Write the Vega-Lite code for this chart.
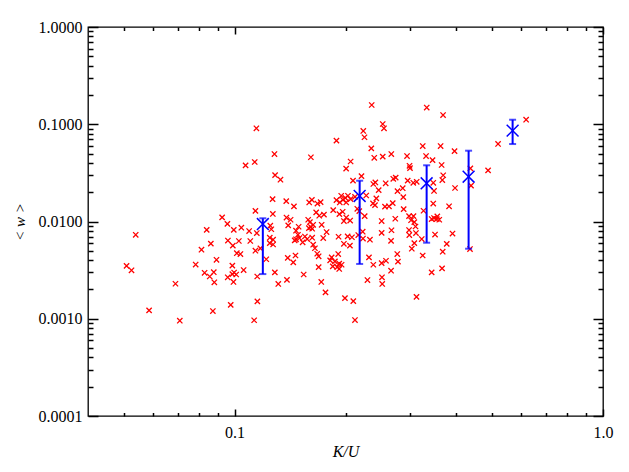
{
  "$schema": "https://vega.github.io/schema/vega-lite/v6.json",
  "width": 515,
  "height": 389,
  "autosize": "none",
  "padding": {"left": 88, "top": 27, "right": 26, "bottom": 56},
  "background": "white",
  "config": {"view": {"stroke": "black", "strokeWidth": 1.3}},
  "datasets": {
    "pts": [
      {"k":0.0509,"w":0.00350},{"k":0.0525,"w":0.00315},{"k":0.0539,"w":0.00730},{"k":0.0586,"w":0.00122},
      {"k":0.0691,"w":0.00229},{"k":0.0710,"w":0.000955},{"k":0.0784,"w":0.00361},{"k":0.0813,"w":0.00513},
      {"k":0.0829,"w":0.00297},{"k":0.0840,"w":0.00821},{"k":0.0856,"w":0.00272},{"k":0.0862,"w":0.00593},
      {"k":0.0873,"w":0.00120},{"k":0.0878,"w":0.00301},{"k":0.0881,"w":0.00237},{"k":0.0893,"w":0.00404},
      {"k":0.0925,"w":0.01104},{"k":0.0956,"w":0.00945},{"k":0.0959,"w":0.00637},{"k":0.0958,"w":0.00267},
      {"k":0.0976,"w":0.00139},{"k":0.0986,"w":0.00352},{"k":0.0986,"w":0.00288},{"k":0.0989,"w":0.00564},
      {"k":0.0995,"w":0.00821},{"k":0.0997,"w":0.00299},{"k":0.0993,"w":0.00239},{"k":0.1010,"w":0.00285},
      {"k":0.1014,"w":0.00472},{"k":0.1037,"w":0.00463},{"k":0.1027,"w":0.00630},{"k":0.1043,"w":0.00863},
      {"k":0.1058,"w":0.00317},{"k":0.1071,"w":0.0378},{"k":0.1095,"w":0.00798},{"k":0.1103,"w":0.00630},
      {"k":0.1130,"w":0.000965},{"k":0.1139,"w":0.00501},{"k":0.1134,"w":0.0409},{"k":0.1146,"w":0.0909},
      {"k":0.1139,"w":0.01285},{"k":0.1149,"w":0.00761},{"k":0.1153,"w":0.00151},{"k":0.1152,"w":0.00272},
      {"k":0.1175,"w":0.00530},{"k":0.1219,"w":0.00409},{"k":0.1250,"w":0.00905},{"k":0.1258,"w":0.00832},
      {"k":0.1268,"w":0.0170},{"k":0.1270,"w":0.01196},{"k":0.1283,"w":0.0494},{"k":0.1288,"w":0.0300},
      {"k":0.1332,"w":0.0269},{"k":0.1246,"w":0.00681},{"k":0.1272,"w":0.00650},{"k":0.1246,"w":0.00600},
      {"k":0.1272,"w":0.00580},{"k":0.1286,"w":0.00300},{"k":0.1314,"w":0.00228},{"k":0.1381,"w":0.0162},
      {"k":0.1383,"w":0.01098},{"k":0.1419,"w":0.01042},{"k":0.1398,"w":0.00913},{"k":0.1387,"w":0.00251},
      {"k":0.1394,"w":0.00423},{"k":0.1449,"w":0.0143},{"k":0.1463,"w":0.00447},{"k":0.1443,"w":0.00380},
      {"k":0.1456,"w":0.00640},{"k":0.1492,"w":0.00883},{"k":0.1486,"w":0.00730},{"k":0.1468,"w":0.00804},
      {"k":0.1500,"w":0.00676},{"k":0.1468,"w":0.00656},{"k":0.1552,"w":0.00701},{"k":0.1574,"w":0.00660},
      {"k":0.1530,"w":0.00611},{"k":0.1540,"w":0.00285},{"k":0.1594,"w":0.0157},{"k":0.1621,"w":0.0167},
      {"k":0.1678,"w":0.0153},{"k":0.1712,"w":0.0158},{"k":0.1611,"w":0.0458},{"k":0.1584,"w":0.01042},
      {"k":0.1601,"w":0.00986},{"k":0.1634,"w":0.00925},{"k":0.1611,"w":0.00877},{"k":0.1591,"w":0.00856},
      {"k":0.1624,"w":0.00842},{"k":0.1665,"w":0.0124},{"k":0.1697,"w":0.01146},{"k":0.1748,"w":0.01178},
      {"k":0.1723,"w":0.00925},{"k":0.1634,"w":0.00577},{"k":0.1652,"w":0.00531},{"k":0.1676,"w":0.00466},
      {"k":0.1691,"w":0.00439},{"k":0.1691,"w":0.00340},{"k":0.1740,"w":0.00676},{"k":0.1719,"w":0.00239},
      {"k":0.1765,"w":0.00187},{"k":0.1777,"w":0.00779},{"k":0.1624,"w":0.00681},{"k":0.1834,"w":0.00428},
      {"k":0.1817,"w":0.00398},{"k":0.1872,"w":0.00389},{"k":0.1847,"w":0.00346},{"k":0.1923,"w":0.00369},
      {"k":0.1952,"w":0.00359},{"k":0.1923,"w":0.00325},{"k":0.1899,"w":0.00340},{"k":0.1911,"w":0.00463},
      {"k":0.1890,"w":0.0678},{"k":0.1925,"w":0.01192},{"k":0.2009,"w":0.01098},{"k":0.1980,"w":0.01011},
      {"k":0.2059,"w":0.01023},{"k":0.1915,"w":0.00697},{"k":0.2027,"w":0.00704},{"k":0.2082,"w":0.00689},
      {"k":0.2056,"w":0.00564},{"k":0.1980,"w":0.00590},{"k":0.2008,"w":0.0350},{"k":0.2065,"w":0.0414},
      {"k":0.2096,"w":0.0263},{"k":0.1993,"w":0.00163},{"k":0.2100,"w":0.00152},{"k":0.2122,"w":0.00097},
      {"k":0.2166,"w":0.00726},{"k":0.2231,"w":0.00668},{"k":0.2330,"w":0.00650},{"k":0.2255,"w":0.01137},
      {"k":0.2153,"w":0.01351},{"k":0.2180,"w":0.0128},{"k":0.2210,"w":0.0293},{"k":0.2235,"w":0.0853},
      {"k":0.2252,"w":0.0735},{"k":0.2277,"w":0.0185},{"k":0.2356,"w":0.1577},{"k":0.2350,"w":0.0565},
      {"k":0.2394,"w":0.0452},{"k":0.2380,"w":0.0243},{"k":0.2410,"w":0.0252},{"k":0.2461,"w":0.0210},
      {"k":0.2425,"w":0.0173},{"k":0.2375,"w":0.01535},{"k":0.2405,"w":0.01474},{"k":0.2524,"w":0.1006},
      {"k":0.2544,"w":0.0909},{"k":0.2524,"w":0.0464},{"k":0.2571,"w":0.0247},{"k":0.2560,"w":0.01424},
      {"k":0.2624,"w":0.01434},{"k":0.2687,"w":0.01545},{"k":0.2507,"w":0.01011},{"k":0.2507,"w":0.00764},
      {"k":0.2666,"w":0.00813},{"k":0.2659,"w":0.00633},{"k":0.2316,"w":0.00428},{"k":0.2380,"w":0.00359},
      {"k":0.2507,"w":0.00373},{"k":0.2576,"w":0.00395},{"k":0.2659,"w":0.00312},{"k":0.2294,"w":0.00250},
      {"k":0.2512,"w":0.00267},{"k":0.2516,"w":0.00228},{"k":0.2663,"w":0.0494},{"k":0.2696,"w":0.0275},
      {"k":0.2737,"w":0.0283},{"k":0.2768,"w":0.0205},{"k":0.2730,"w":0.01067},{"k":0.2764,"w":0.00463},
      {"k":0.2776,"w":0.00387},{"k":0.2227,"w":0.00785},{"k":0.1890,"w":0.0166},{"k":0.1947,"w":0.0184},
      {"k":0.1969,"w":0.0167},{"k":0.1997,"w":0.0175},{"k":0.2031,"w":0.0184},{"k":0.2065,"w":0.0170},
      {"k":0.2009,"w":0.0157},{"k":0.1930,"w":0.0157},{"k":0.2122,"w":0.0179},{"k":0.1852,"w":0.0131},
      {"k":0.1965,"w":0.0126},{"k":0.2860,"w":0.0220},{"k":0.2870,"w":0.0178},{"k":0.2877,"w":0.0134},
      {"k":0.2938,"w":0.0471},{"k":0.2984,"w":0.0374},{"k":0.2993,"w":0.0354},{"k":0.2950,"w":0.0263},
      {"k":0.3055,"w":0.0250},{"k":0.3121,"w":0.0256},{"k":0.2975,"w":0.01137},{"k":0.3059,"w":0.01137},
      {"k":0.3013,"w":0.01030},{"k":0.3075,"w":0.00986},{"k":0.3098,"w":0.00888},{"k":0.2980,"w":0.00726},
      {"k":0.3107,"w":0.00761},{"k":0.3221,"w":0.00660},{"k":0.3075,"w":0.00600},{"k":0.3027,"w":0.00525},
      {"k":0.2975,"w":0.00817},{"k":0.3240,"w":0.00447},{"k":0.3117,"w":0.00168},{"k":0.3241,"w":0.0597},
      {"k":0.3323,"w":0.1486},{"k":0.3309,"w":0.0471},{"k":0.3446,"w":0.0428},{"k":0.3257,"w":0.0129},
      {"k":0.3461,"w":0.0153},{"k":0.3462,"w":0.0250},{"k":0.3478,"w":0.0206},{"k":0.3427,"w":0.0106},
      {"k":0.3478,"w":0.01085},{"k":0.3537,"w":0.0106},{"k":0.3594,"w":0.01042},{"k":0.3550,"w":0.01130},
      {"k":0.3500,"w":0.00734},{"k":0.3427,"w":0.00300},{"k":0.3624,"w":0.0597},{"k":0.3680,"w":0.1244},
      {"k":0.3647,"w":0.0381},{"k":0.3683,"w":0.0299},{"k":0.3663,"w":0.0267},{"k":0.3672,"w":0.00489},
      {"k":0.3657,"w":0.00330},{"k":0.3766,"w":0.00589},{"k":0.3821,"w":0.01433},{"k":0.3904,"w":0.00752},
      {"k":0.3954,"w":0.0530},{"k":0.3966,"w":0.0221},{"k":0.4365,"w":0.0352},{"k":0.4383,"w":0.0234},
      {"k":0.4355,"w":0.00521},{"k":0.4876,"w":0.0336},{"k":0.5190,"w":0.0627},{"k":0.6185,"w":0.1114}
    ],
    "means": [
      {"k":0.1193,"w":0.00942,"lo":0.00288,"hi":0.01079},
      {"k":0.2185,"w":0.0183,"lo":0.00366,"hi":0.02627},
      {"k":0.3321,"w":0.02471,"lo":0.00605,"hi":0.03784},
      {"k":0.4317,"w":0.02889,"lo":0.00525,"hi":0.05346},
      {"k":0.5684,"w":0.0859,"lo":0.0626,"hi":0.1113}
    ]
  },
  "resolve": {"axis": {"x": "independent", "y": "independent"}},
  "layer": [
    {
      "data": {"name": "pts"},
      "mark": {"type": "point", "shape": "M-1,-1L1,1M-1,1L1,-1", "filled": false, "stroke": "#ff0000", "strokeWidth": 1.3, "size": 28, "opacity": 1},
      "encoding": {
        "x": {"field": "k", "type": "quantitative",
          "scale": {"type": "log", "domain": [0.04, 1], "nice": false, "zero": false},
          "axis": {"orient": "bottom", "values": [0.1, 1], "format": ".1f", "ticks": false, "domain": false, "grid": false,
            "labelFlush": false, "labelPadding": 8, "labelFont": "Liberation Serif", "labelFontSize": 16, "labelColor": "black",
            "title": "K/U", "titleFont": "Liberation Serif", "titleFontSize": 16, "titleFontStyle": "italic", "titleFontWeight": "normal", "titleColor": "black", "titlePadding": 3}},
        "y": {"field": "w", "type": "quantitative",
          "scale": {"type": "log", "domain": [0.0001, 1], "nice": false, "zero": false},
          "axis": {"orient": "left", "values": [0.0001, 0.001, 0.01, 0.1, 1], "format": ".4f", "ticks": false, "domain": false, "grid": false,
            "labelFlush": false, "labelPadding": 6, "labelFont": "Liberation Serif", "labelFontSize": 16, "labelColor": "black",
            "title": "< w >", "titleFont": "Liberation Serif", "titleFontSize": 15, "titleFontStyle": "italic", "titleFontWeight": "normal", "titleColor": "black", "titlePadding": 11}}
      }
    },
    {
      "data": {"name": "means"},
      "mark": {"type": "rule", "color": "#0000ff", "strokeWidth": 2},
      "encoding": {
        "x": {"field": "k", "type": "quantitative",
          "axis": {"orient": "bottom", "values": [0.1, 1], "labels": false, "domain": false, "grid": false, "ticks": true, "tickSize": -7, "tickColor": "black", "tickWidth": 1.5, "title": null}},
        "y": {"field": "lo", "type": "quantitative",
          "axis": {"orient": "left", "values": [0.0001, 0.001, 0.01, 0.1, 1], "labels": false, "domain": false, "grid": false, "ticks": true, "tickSize": -10, "tickColor": "black", "tickWidth": 1.5, "title": null}},
        "y2": {"field": "hi"}
      }
    },
    {
      "data": {"name": "means"},
      "mark": {"type": "tick", "orient": "horizontal", "color": "#0000ff", "size": 7, "thickness": 2},
      "encoding": {
        "x": {"field": "k", "type": "quantitative",
          "axis": {"orient": "bottom", "values": [0.05, 0.06, 0.07, 0.08, 0.09, 0.2, 0.3, 0.4, 0.5, 0.6, 0.7, 0.8, 0.9], "labels": false, "domain": false, "grid": false, "ticks": true, "tickSize": -3.5, "tickColor": "black", "tickWidth": 1.5, "title": null}},
        "y": {"field": "lo", "type": "quantitative",
          "axis": {"orient": "left", "values": [0.0002,0.0003,0.0004,0.0005,0.0006,0.0007,0.0008,0.0009,0.002,0.003,0.004,0.005,0.006,0.007,0.008,0.009,0.02,0.03,0.04,0.05,0.06,0.07,0.08,0.09,0.2,0.3,0.4,0.5,0.6,0.7,0.8,0.9], "labels": false, "domain": false, "grid": false, "ticks": true, "tickSize": -5, "tickColor": "black", "tickWidth": 1.5, "title": null}}
      }
    },
    {
      "data": {"name": "means"},
      "mark": {"type": "tick", "orient": "horizontal", "color": "#0000ff", "size": 7, "thickness": 2},
      "encoding": {
        "x": {"field": "k", "type": "quantitative",
          "axis": {"orient": "top", "values": [0.1, 1], "labels": false, "domain": false, "grid": false, "ticks": true, "tickSize": -7, "tickColor": "black", "tickWidth": 1.5, "title": null}},
        "y": {"field": "hi", "type": "quantitative",
          "axis": {"orient": "right", "values": [0.0001, 0.001, 0.01, 0.1, 1], "labels": false, "domain": false, "grid": false, "ticks": true, "tickSize": -10, "tickColor": "black", "tickWidth": 1.5, "title": null}}
      }
    },
    {
      "data": {"name": "means"},
      "mark": {"type": "point", "shape": "M-1,-1L1,1M-1,1L1,-1", "filled": false, "stroke": "#0000ff", "strokeWidth": 1.5, "size": 140, "opacity": 1},
      "encoding": {
        "x": {"field": "k", "type": "quantitative",
          "axis": {"orient": "top", "values": [0.05, 0.06, 0.07, 0.08, 0.09, 0.2, 0.3, 0.4, 0.5, 0.6, 0.7, 0.8, 0.9], "labels": false, "domain": false, "grid": false, "ticks": true, "tickSize": -3.5, "tickColor": "black", "tickWidth": 1.5, "title": null}},
        "y": {"field": "w", "type": "quantitative",
          "axis": {"orient": "right", "values": [0.0002,0.0003,0.0004,0.0005,0.0006,0.0007,0.0008,0.0009,0.002,0.003,0.004,0.005,0.006,0.007,0.008,0.009,0.02,0.03,0.04,0.05,0.06,0.07,0.08,0.09,0.2,0.3,0.4,0.5,0.6,0.7,0.8,0.9], "labels": false, "domain": false, "grid": false, "ticks": true, "tickSize": -5, "tickColor": "black", "tickWidth": 1.5, "title": null}}
      }
    }
  ]
}
